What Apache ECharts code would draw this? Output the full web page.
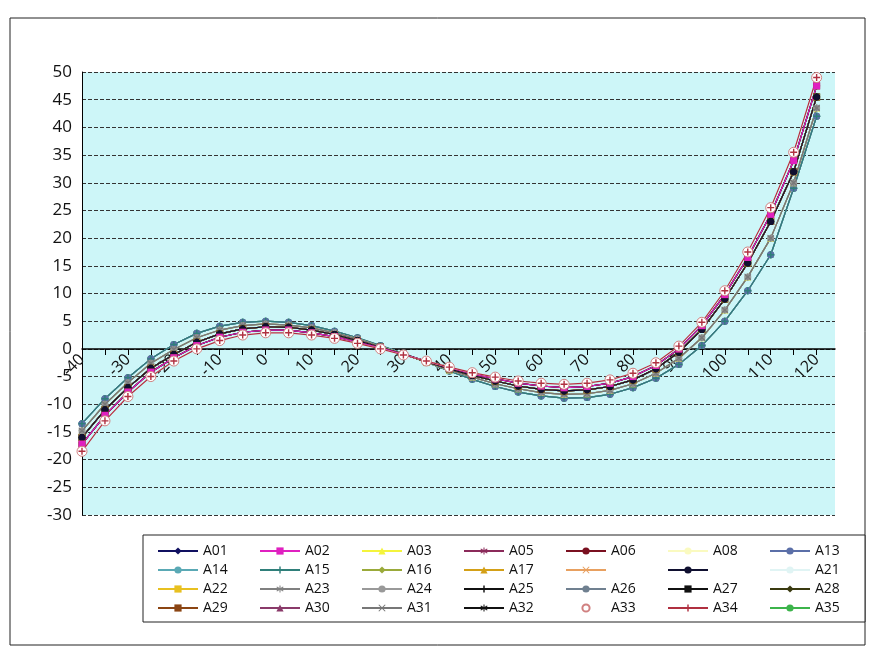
<!DOCTYPE html>
<html><head><meta charset="utf-8">
<script src="https://cdn.jsdelivr.net/npm/echarts@6/dist/echarts.min.js"></script>
<style>html,body{margin:0;background:#fff}#c{width:879px;height:656px}</style>
</head><body><div id="c"></div>
<script>
var xs = [-40,-35,-30,-25,-20,-15,-10,-5,0,5,10,15,20,25,30,35,40,45,50,55,60,65,70,75,80,85,90,95,100,105,110,115,120];
var curveA = [-13.5,-9,-5.2,-1.8,0.8,2.8,4.1,4.8,5,4.8,4.2,3.2,2,0.6,-0.8,-2.4,-4,-5.5,-6.8,-7.8,-8.5,-8.9,-8.8,-8.2,-7,-5.3,-2.8,0.6,5,10.5,17,29,42];
var curveD = [-14.8,-10,-6.1,-2.6,-0.1,2,3.4,4.2,4.5,4.3,3.8,2.9,1.8,0.4,-0.9,-2.4,-3.8,-5.1,-6.3,-7.2,-7.9,-8.2,-8.1,-7.5,-6.3,-4.4,-1.7,2,7,13,20,30,43.5];
var curveC = [-16,-11,-7,-3.5,-1,1.2,2.7,3.6,4,3.9,3.4,2.6,1.5,0.3,-1,-2.3,-3.6,-4.8,-5.8,-6.7,-7.3,-7.6,-7.4,-6.8,-5.6,-3.6,-0.6,3.5,9,15.5,23,32,45.5];
var curveE = [-17.2,-12,-7.8,-4.2,-1.6,0.6,2.1,3,3.4,3.4,2.9,2.2,1.2,0.2,-1,-2.2,-3.4,-4.5,-5.4,-6.2,-6.7,-7,-6.8,-6.2,-5,-3,0,4.2,9.8,16.5,24.3,34,47.5];
var curveB = [-18.5,-13,-8.6,-5,-2.2,0,1.5,2.5,2.9,2.9,2.5,1.9,1,0,-1.1,-2.2,-3.3,-4.3,-5.1,-5.8,-6.2,-6.4,-6.2,-5.6,-4.4,-2.5,0.5,4.8,10.5,17.5,25.5,35.5,49];
var yTicks = [-30, 50, 5];

var PLUS = 'path://M4,0H6V4H10V6H6V10H4V6H0V4H4Z';
var CROSS = 'path://M1,0L5,4L9,0L10,1L6,5L10,9L9,10L5,6L1,10L0,9L4,5L0,1Z';
var STAR = 'path://M4.4,0H5.6V3.6L8.6,1.4L9.3,2.4L6.2,5L9.3,7.6L8.6,8.6L5.6,6.4V10H4.4V6.4L1.4,8.6L0.7,7.6L3.8,5L0.7,2.4L1.4,1.4L4.4,3.6Z';
var DASH = 'path://M0,4H10V6H0Z';
// name, color, symbol, curve
var seriesDefs = [
  ['A35','#3cb44b','circle',curveA],['A14','#5aa9b5','circle',curveA],['A21','#e0f4f4','none',curveA],
  ['A26','#708090','circle',curveA],['A13','#5b6fa8','circle',curveA],['A15','#2f7f7a',PLUS,curveA],
  ['A16','#9aaa3a','diamond',curveD],['A03','#f4f43c','triangle',curveD],['A08','#fafac0','none',curveD],
  ['A24','#999999','circle',curveD],['A23','#808080',STAR,curveD],['A31','#777777',CROSS,curveD],
  ['A01','#101060','diamond',curveC],['A05','#8b2a5a',STAR,curveC],['A17','#d4a017','triangle',curveC],
  ['A22','#e8c020','rect',curveC],['A25','#111111',PLUS,curveC],['A27','#111111',DASH,curveC],
  ['A28','#3a3a10','diamond',curveC],['\u200b','#e8a060',CROSS,curveC],['\u200b\u200b','#101030','circle',curveC],
  ['A06','#7a1020','circle',curveE],['A29','#8b4513','rect',curveE],['A30','#8a3a6a','triangle',curveE],
  ['A32','#111111',STAR,curveE],['A02','#e020c0','rect',curveE],
  ['A33','#ffffff','circle',curveB],['A34','#b03040',PLUS,curveB]
];
var legendCols = [
  ['A01','A14','A22','A29'],['A02','A15','A23','A30'],['A03','A16','A24','A31'],
  ['A05','A17','A25','A32'],['A06','\u200b','A26','A33'],['A08','\u200b\u200b','A27','A34'],['A13','A21','A28','A35']
];

var series = seriesDefs.map(function (d) {
  return {
    name: d[0], type: 'line', data: xs.map(function (x, i) { return [x, d[3][i]]; }),
    symbol: d[2], symbolSize: d[0] === 'A33' ? 10 : 7, showSymbol: true,
    lineStyle: { color: d[1], width: 1.2 }, itemStyle: { color: d[1], borderColor: d[0]==='A33' ? '#d08080' : d[1], borderWidth: d[0]==='A33'?1:0 },
    clip: true, z: 2
  };
});

var legends = legendCols.map(function (col, i) {
  return {
    orient: 'vertical', left: 152 + i * 102, top: 539, itemGap: 5, itemWidth: 40, itemHeight: 9,
    data: col, textStyle: { fontSize: 14, color: '#111', fontFamily: 'Open Sans' }, selectedMode: false
  };
});

var chart = echarts.init(document.getElementById('c'));
chart.setOption({
  animation: false,
  backgroundColor: '#fff',
  graphic: [
    { type: 'rect', shape: { x: 10, y: 18, width: 855, height: 627 }, style: { fill: 'none', stroke: '#222', lineWidth: 1 }, z: -1 },
    { type: 'rect', shape: { x: 143, y: 535, width: 722, height: 87 }, style: { fill: '#fff', stroke: '#222', lineWidth: 1 }, z: 0 }
  ],
  legend: legends,
  grid: { left: 82, right: 44, top: 72, bottom: 141, show: true, backgroundColor: '#cdf6f8', borderWidth: 0 },
  xAxis: {
    type: 'value', min: -40, max: 124, interval: 5, position: 'bottom', offset: -166,
    axisLine: { onZero: false, lineStyle: { color: '#000', width: 1.5 } },
    axisTick: { show: true, inside: false, length: 6, lineStyle: { color: '#000' } },
    axisLabel: { rotate: 45, fontSize: 16, color: '#111', fontFamily: 'Open Sans', showMaxLabel: false,
      formatter: function (v) { return (v % 10 === 0 && v <= 120) ? String(v) : ''; } },
    splitLine: { show: false }
  },
  yAxis: {
    type: 'value', min: yTicks[0], max: yTicks[1], interval: yTicks[2],
    axisLine: { show: true, onZero: false, lineStyle: { color: '#000' } },
    axisTick: { show: false },
    axisLabel: { fontSize: 17, color: '#111', fontFamily: 'Open Sans', margin: 10 },
    splitLine: { lineStyle: { type: 'dashed', color: '#333', width: 1 } }
  },
  series: series
});
</script></body></html>
